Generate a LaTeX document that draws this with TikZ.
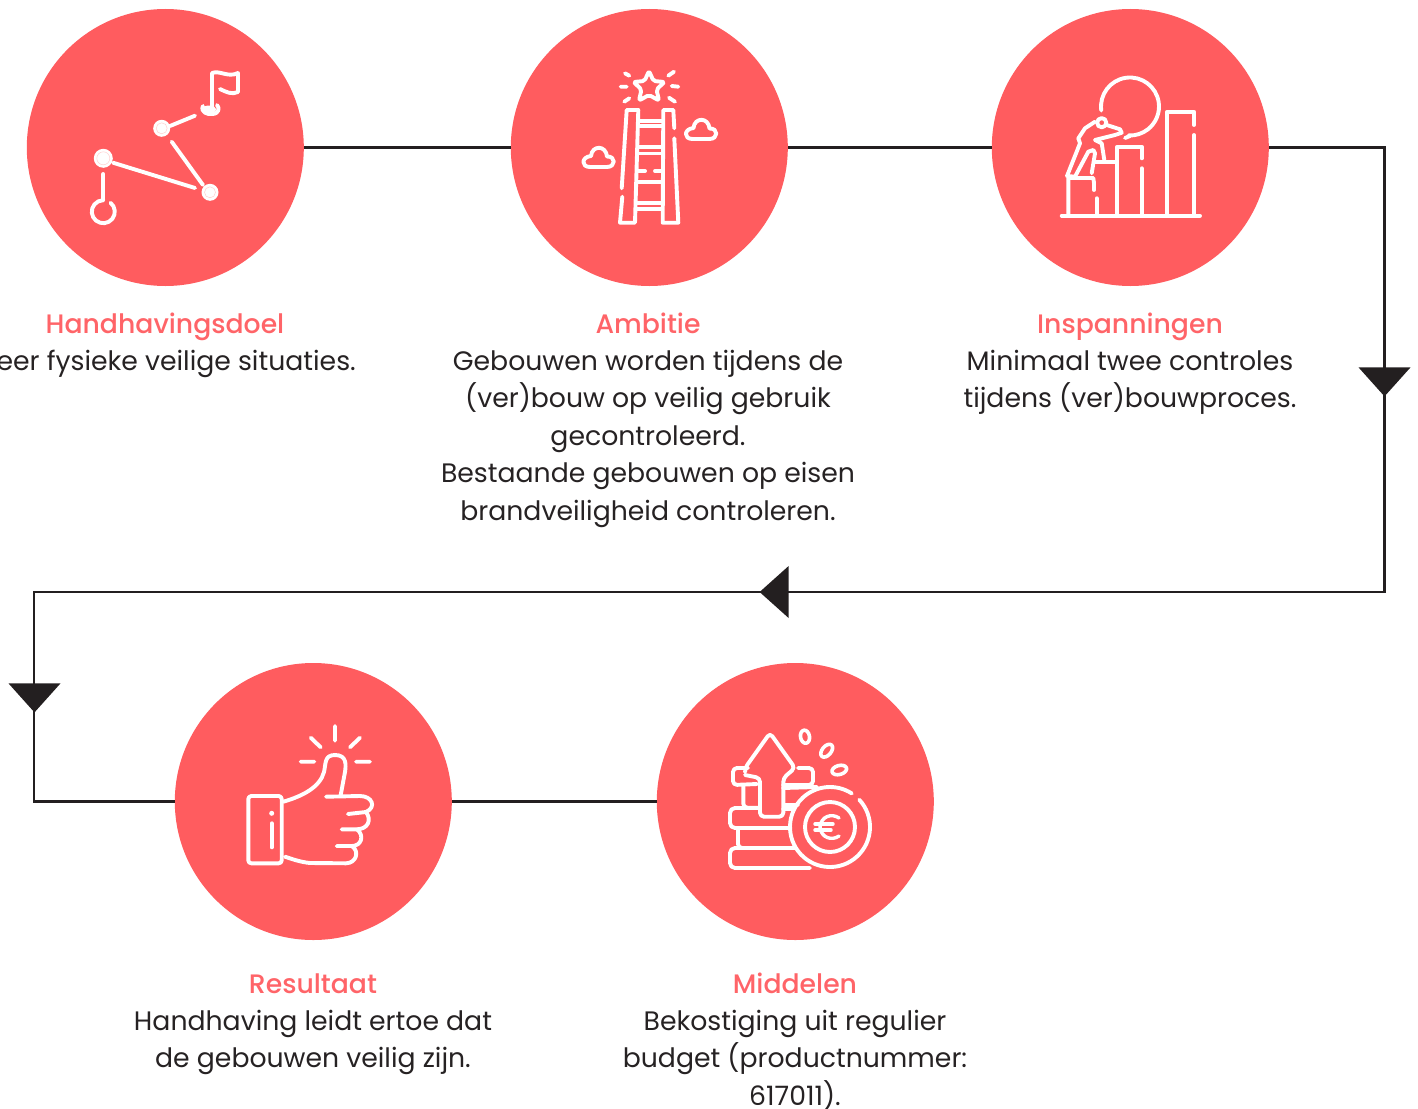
\documentclass[tikz,border=0pt]{standalone}
\usepackage{fontspec}
\usetikzlibrary{shapes.geometric}
\setmainfont{Poppins}
\newfontfamily\headfont{Poppins Medium}
\definecolor{coral}{HTML}{FF5C5F}
\definecolor{headred}{HTML}{FF6468}
\definecolor{inkline}{HTML}{231F20}
\definecolor{bodyink}{HTML}{262223}
\definecolor{dotring}{HTML}{FFD0D0}
\newcommand{\cloudicon}[2]{\draw[icon,shift={(#1,#2)}] (7,21) -- (24,21) .. controls (33,21) and (33,10) .. (24,10.5) .. controls (23,-1) and (9,-1) .. (8,10) .. controls (-2,11) and (-2,21) .. (7,21) -- cycle;}
\newcommand{\stopdot}[3]{\fill[white] (#1,#2) circle (#3); \draw[dotring,line width=.5pt] (#1,#2) circle (#3-3);}
\tikzset{
	bubble/.style={circle,fill=coral,minimum size=277pt,inner sep=0pt},
	link/.style={draw=inkline,line width=2.6pt},
	marker/.style={isosceles triangle,isosceles triangle apex angle=84,isosceles triangle stretches,fill=inkline,inner sep=0pt,minimum width=52pt,minimum height=29pt},
	icon/.style={draw=white,line width=3.9pt,line cap=round,line join=round},
	headtext/.style={anchor=base,font=\headfont\fontsize{26.7}{30}\selectfont,text=headred},
	bodytext/.style={anchor=north,align=center,inner sep=0pt,font=\fontsize{26.7}{37.5}\selectfont,text=bodyink}
}
\begin{document}
\begin{tikzpicture}[x=1pt,y=-1pt]
	\useasboundingbox (0,0) rectangle (1418,1108);
	% circles
	\node[bubble] (doel) at (165.3,147.5) {};
	\node[bubble] (ambitie) at (649.3,147.5) {};
	\node[bubble] (inspanning) at (1130.3,147.5) {};
	\node[bubble] (resultaat) at (313.3,801.5) {};
	\node[bubble] (middelen) at (795.3,801.5) {};
	\coordinate (hoekA) at (1384.7,147.5);
	\coordinate (hoekB) at (1384.7,592);
	\coordinate (hoekC) at (34,592);
	\coordinate (hoekD) at (34,801.5);
	% connectors
	\draw[link] (doel) -- (ambitie);
	\draw[link] (ambitie) -- (inspanning);
	\draw[link] (inspanning) -- (hoekA) -- (hoekB) -- (hoekC) -- (hoekD) -- (resultaat);
	\draw[link] (resultaat) -- (middelen);
	\node[marker,shape border rotate=270] (pijlA) at (1384.5,379) {};
	\node[marker,shape border rotate=180] (pijlB) at (777,592) {};
	\node[marker,shape border rotate=270] (pijlC) at (34.5,695) {};
	% texts
	\node[headtext] (doeltitel) at (165,333) {Handhavingsdoel};
	\node[bodytext,anchor=base east] (doeltekst) at (356,370) {eer fysieke veilige situaties.};
	\node[headtext] (ambitietitel) at (648,333) {Ambitie};
	\node[bodytext] (ambitietekst) at (648,349.7) {Gebouwen worden tijdens de\\(ver)bouw op veilig gebruik\\gecontroleerd.\\Bestaande gebouwen op eisen\\brandveiligheid controleren.};
	\node[headtext] (inspanningtitel) at (1130,333) {Inspanningen};
	\node[bodytext] (inspanningtekst) at (1130,349.7) {Minimaal twee controles\\tijdens (ver)bouwproces.};
	\node[headtext] (resultaattitel) at (313,993) {Resultaat};
	\node[bodytext] (resultaattekst) at (313,1009.7) {Handhaving leidt ertoe dat\\de gebouwen veilig zijn.};
	\node[headtext] (middelentitel) at (795,993) {Middelen};
	\node[bodytext] (middelentekst) at (795,1009.7) {Bekostiging uit regulier\\budget (productnummer:\\617011).};
	% route icon
	\draw[icon] (212,110) -- (212,73) .. controls (220,70) and (228,78) .. (238,73) -- (238,92) .. controls (232,95) and (226,92) .. (220,89);
	\draw[icon] (203,106) .. controls (200,112) and (208,115) .. (212,114) .. controls (219,114) and (220,108) .. (217,105);
	\fill[white] (209,109.5) ellipse (7 and 4);
	\stopdot{161.7}{128.3}{8.5}
	\stopdot{103.3}{158.3}{9.5}
	\stopdot{210}{192.3}{8.5}
	\draw[icon] (170,126) -- (195,115.7);
	\draw[icon] (171.7,141.7) -- (203,185);
	\draw[icon] (113,162.7) -- (195,188);
	\draw[icon] (103.3,174) -- (103.3,200);
	\draw[icon] (103.3,211.7) ++(-51:11.5) arc (-51:270:11.5);
	% ladder icon
	\draw[icon,rounded corners=2pt] (649,71) -- (653.5,81) -- (664.5,82) -- (656.5,89.5) -- (659,100.5) -- (649,95) -- (639,100.5) -- (641.5,89.5) -- (633.5,82) -- (644.5,81) -- cycle;
	\draw[icon] (625,73.3) -- (629.3,75.7) (620.7,86.7) -- (626.7,86.7) (624.3,101.7) -- (629.3,98.3);
	\draw[icon] (674,71.7) -- (668.3,75.7) (671.7,86) -- (678.3,86.7) (669,97.7) -- (675,101.7);
	\draw[icon] (621.7,188.3) -- (626.7,110) -- (638.3,110) -- (635,222.7) -- (620,222.7) -- (622.3,196.7);
	\draw[icon] (674.3,128.3) -- (673.3,110) -- (663.3,110) -- (662.7,222.7) -- (678.3,222.7) -- (674.3,138.3);
	\draw[icon,line cap=butt] (638,120.7) -- (663,120.7) (638,126.3) -- (663,126.3) (637,147.3) -- (663,147.3) (637,153.5) -- (663,153.5) (637,181.7) -- (663,181.7) (636,203.3) -- (663,203.3) (636,209.3) -- (663,209.3);
	\draw[icon] (637,171) -- (645,171) (655,171) -- (663,171);
	\cloudicon{685.5}{118}
	\cloudicon{583}{146}
	% effort icon
	\draw[icon] (1061.7,215.7) -- (1200,215.7);
	\draw[icon] (1167.3,215) -- (1167.3,111.7) -- (1194,111.7) -- (1194,125) (1194,135) -- (1194,215);
	\draw[icon] (1117.3,215) -- (1117.3,146.7) -- (1141.7,146.7) -- (1141.7,158.3) (1141.7,168.3) -- (1141.7,215);
	\draw[icon] (1095,162) -- (1117,162) (1096.7,198.3) -- (1096.7,215) (1094,183) -- (1094,190);
	\draw[icon] (1068.3,215) -- (1068.3,178) -- (1093.3,178) -- (1094,183);
	\draw[icon] (1130,106.5) ++(172:29) arc (172:453:29);
	\draw[icon] (1125,138) -- (1130,136);
	\draw[icon] (1101.7,122.7) circle (4.6);
	\draw[icon] (1095,121.7) -- (1085,128.3) -- (1078.3,138.3) -- (1080,143.3) -- (1067,176) -- (1075,176.7) -- (1088.3,151.7) -- (1093.3,150) -- (1095,153.3) -- (1091.7,173.3);
	\draw[icon] (1106.7,125) -- (1120,129.3) -- (1121.7,132.7) -- (1115,135) -- (1095,140) -- (1101.7,143.3) -- (1104.3,160);
	% thumb icon
	\draw[icon] (335,726) -- (335,740.7) (310.7,737.7) -- (320.7,747.3) (360,737.7) -- (350,747.3) (300.7,761.7) -- (314.3,761.7) (356,761.7) -- (370,761.7);
	\draw[icon,rounded corners=3pt] (248.3,796) rectangle (281.7,863.3);
	\fill[white] (271.7,813.3) circle (2.5);
	\draw[icon] (271.7,823.3) -- (271.7,847.3);
	\draw[icon] (283.3,801.7) .. controls (303,796) and (320,787) .. (324,772) .. controls (326,764) and (324,755) .. (335,755) .. controls (347,755) and (346,765) .. (345,772) -- (340.7,795);
	\draw[icon] (326,796.7) -- (360,796) .. controls (372,796) and (377,807) .. (366,812) -- (348,814);
	\draw[icon] (366,812) .. controls (372,820) and (368,829) .. (357,829.3) -- (341.7,829.3);
	\draw[icon] (357,829.3) .. controls (365,836) and (361,846) .. (352,846) -- (336.7,846);
	\draw[icon] (352,846) .. controls (360,852) and (356,863) .. (346,863.3) -- (310,863) .. controls (300,862) and (292,859) .. (285,856.7);
	% coins icon
	\draw[icon,rounded corners=4pt] (745,771) -- (745,768) -- (770,733) -- (795,768) -- (783.3,778) -- (783.3,816.7) -- (760,816.7) -- (760,778) -- (745,775);
	\draw[icon,rounded corners=4pt] (748,768) -- (733,768) -- (733,785) -- (757,784);
	\draw[icon,rounded corners=4pt] (798,768) -- (813,768) -- (813,785) -- (783,785);
	\draw[icon,rounded corners=4pt] (743.3,786) -- (743.3,807.7) -- (758,807.7);
	\draw[icon] (783,788) -- (817,787) (785,805) -- (798,805) (783,809) -- (793,809);
	\draw[icon,rounded corners=5pt] (758,808) -- (730,808) -- (730,828) -- (790,828);
	\draw[icon,rounded corners=4pt] (738,830) -- (738,848) -- (795,848);
	\draw[icon,rounded corners=5pt] (742,848) -- (730,848) -- (730,868) -- (810,868);
	\draw[icon] (830,827) ++(-43:40) arc (-43:303:40);
	\draw[icon] (830,827) circle (25);
	\draw[icon,line width=3.4pt] (839,818) .. controls (832,813) and (821,816) .. (820,827) .. controls (821,838) and (832,841) .. (839,836);
	\draw[icon,line width=3.4pt] (815,824) -- (833,824) (815,830) -- (831,830);
	\draw[icon,line width=3.6pt,rotate around={100:(805,736.7)}] (805,736.7) ellipse (6.6 and 4.5);
	\draw[icon,line width=3.6pt,rotate around={50:(826.7,750.7)}] (826.7,750.7) ellipse (7.5 and 4.5);
	\draw[icon,line width=3.6pt,rotate around={15:(839.3,770)}] (839.3,770) ellipse (7.5 and 4.5);
\end{tikzpicture}
\end{document}
